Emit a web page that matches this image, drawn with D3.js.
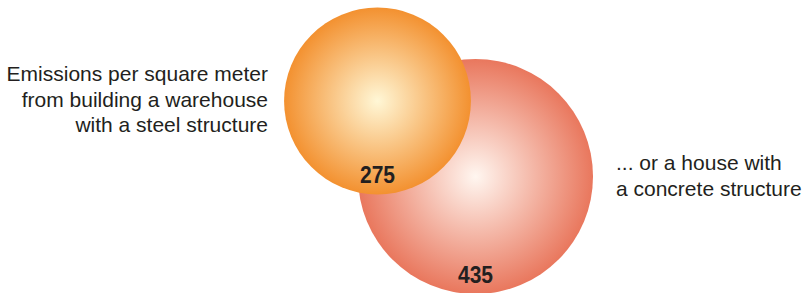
<!DOCTYPE html>
<html>
<head>
<meta charset="utf-8">
<script src="https://cdn.jsdelivr.net/npm/d3@7"></script>
<style>
  body { margin: 0; background: #fff; }
  svg text { font-family: "Liberation Sans", Arial, sans-serif; fill: #231f20; }
</style>
</head>
<body>
<div id="chart"></div>
<script>
// values
const labels = ["steel", "concrete"];
const values = [275, 435];
const edgeColors = ["#f39130", "#e9775d"];
const centerColors = ["#fff7d6", "#fff6f0"];
const leftText = ["Emissions per square meter", "from building a warehouse", "with a steel structure"];
const rightText = ["... or a house with", "a concrete structure"];

const width = 804, height = 293;

const svg = d3.select("#chart")
    .append("svg")
    .attr("width", width)
    .attr("height", height);

// bubble size scale - area proportional
const r = d3.scaleSqrt()
    .domain([0, d3.max(values)])
    .range([0, 117.5]);

// centres of the two bubbles
const cx = d3.scalePoint().domain(labels).range([377.5, 475.5]);
const cy = d3.scalePoint().domain(labels).range([101, 176.5]);

const defs = svg.append("defs");
labels.forEach(function (l, i) {
    const g = defs.append("radialGradient")
        .attr("id", "grad-" + l)
        .attr("cx", "50%").attr("cy", "50%").attr("r", "50%");
    g.append("stop").attr("offset", "0%").attr("stop-color", centerColors[i]);
    g.append("stop").attr("offset", "100%").attr("stop-color", edgeColors[i]);
});

// draw the big one first so the small one sits on top
const order = [1, 0];
svg.selectAll("circle")
    .data(order)
    .join("circle")
    .attr("cx", i => cx(labels[i]))
    .attr("cy", i => cy(labels[i]))
    .attr("r", i => r(values[i]))
    .style("fill", i => "url(#grad-" + labels[i] + ")");

// value labels at the bottom of each bubble (condensed bold look)
svg.selectAll(".val")
    .data(order)
    .join("text")
    .attr("class", "val")
    .attr("x", i => cx(labels[i]))
    .attr("y", i => cy(labels[i]) + r(values[i]) - 11)
    .attr("text-anchor", "middle")
    .attr("textLength", 35)
    .attr("lengthAdjust", "spacingAndGlyphs")
    .style("font-size", "23px")
    .style("font-weight", "bold")
    .text(i => values[i]);

// annotation on the left
svg.append("text")
    .attr("text-anchor", "end")
    .style("font-size", "21px")
    .selectAll("tspan")
    .data(leftText)
    .join("tspan")
    .attr("x", 268)
    .attr("y", (d, i) => 81 + i * 25.5)
    .text(d => d);

// annotation on the right
svg.append("text")
    .attr("text-anchor", "start")
    .style("font-size", "21px")
    .selectAll("tspan")
    .data(rightText)
    .join("tspan")
    .attr("x", 616)
    .attr("y", (d, i) => 170 + i * 25.5)
    .text(d => d);
</script>
</body>
</html>
